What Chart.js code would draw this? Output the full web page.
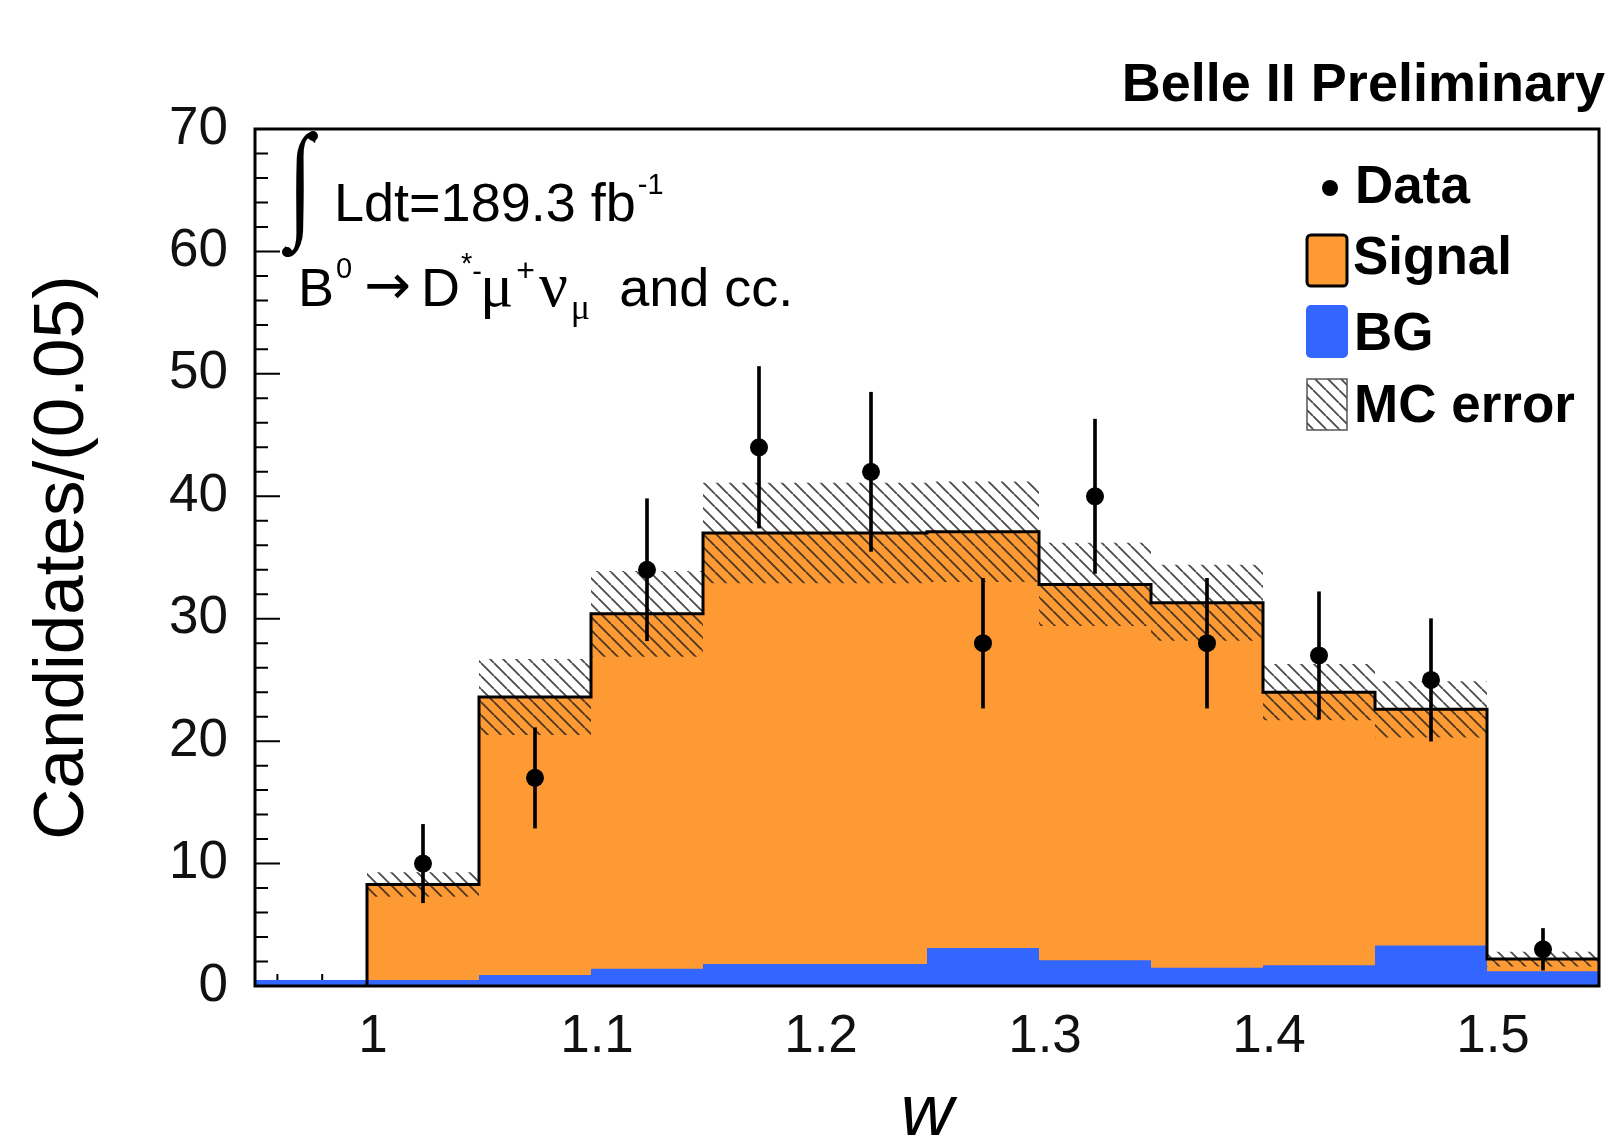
<!DOCTYPE html>
<html>
<head>
<meta charset="utf-8">
<title>Belle II Preliminary - w</title>
<script src="https://cdn.jsdelivr.net/npm/chart.js"></script>
<style>
  html, body { margin: 0; padding: 0; background: #fff; }
  #wrap { width: 1608px; height: 1145px; }
</style>
</head>
<body>
<div id="wrap"><canvas id="graficoW"></canvas></div>
<script>
// bin edges of w (width 0.05)
const binEdges = [0.95, 1.0, 1.05, 1.1, 1.15, 1.2, 1.25, 1.3, 1.35, 1.4, 1.45, 1.5, 1.55];
// stacked MC per bin
const bgValues = [0.5, 0.5, 0.9, 1.4, 1.8, 1.8, 3.1, 2.1, 1.5, 1.7, 3.3, 1.2];
const signalValues = [0, 7.8, 22.7, 29.0, 35.2, 35.2, 34.0, 30.7, 29.8, 22.3, 19.3, 1.0];
const mcError = [0, 1.0, 3.1, 3.5, 4.1, 4.1, 4.1, 3.4, 3.1, 2.3, 2.3, 0.6];
// data points (bin centres)
const dataX = [1.025, 1.075, 1.125, 1.175, 1.225, 1.275, 1.325, 1.375, 1.425, 1.475, 1.525];
const dataY = [10, 17, 34, 44, 42, 28, 40, 28, 27, 25, 3];
const dataErr = [3.2, 4.1, 5.8, 6.6, 6.5, 5.3, 6.3, 5.3, 5.2, 5.0, 1.7];
// axis ticks
const xTicks = [1, 1.1, 1.2, 1.3, 1.4, 1.5];
const yTicks = [0, 10, 20, 30, 40, 50, 60, 70];

const sans = '"Liberation Sans", Arial, Helvetica, sans-serif';
const serif = '"Liberation Serif", "DejaVu Serif", serif';
const orange = '#fe9a34';
const blue = '#3366fe';

const totalValues = signalValues.map((s, i) => s + bgValues[i]);

// points for a stepped line (value holds from left edge to next edge)
function stepPoints(values) {
  const pts = values.map((v, i) => ({ x: binEdges[i], y: v }));
  pts.push({ x: binEdges[values.length], y: values[values.length - 1] });
  return pts;
}

function makeHatch(size, color, width) {
  const c = document.createElement('canvas');
  c.width = size;
  c.height = size;
  const g = c.getContext('2d');
  g.strokeStyle = color;
  g.lineWidth = width;
  g.beginPath();
  for (let k = -1; k <= 1; k++) {
    g.moveTo(k * size, 0);
    g.lineTo(k * size + size, size);
  }
  g.stroke();
  return g.createPattern(c, 'repeat');
}
const hatch = makeHatch(13, 'rgba(30,30,30,0.8)', 1.8);

// outline starts at the first signal bin
const outlinePts = [{ x: binEdges[1], y: 0 }].concat(stepPoints(totalValues).slice(1));

// inside ticks + frame
const frameTicks = {
  id: 'frameTicks',
  beforeDatasetsDraw(chart) {
    const { ctx, chartArea: a, scales: { x, y } } = chart;
    ctx.save();
    ctx.strokeStyle = '#000';
    ctx.lineWidth = 2;
    ctx.beginPath();
    for (let v = 0; v <= 70; v += 2) {
      const py = y.getPixelForValue(v);
      const len = v % 10 === 0 ? 25 : 13;
      ctx.moveTo(a.left, py);
      ctx.lineTo(a.left + len, py);
    }
    for (let k = 48; k <= 77; k++) {
      const px = x.getPixelForValue(k / 50);
      const len = k % 5 === 0 ? 24 : 12;
      ctx.moveTo(px, a.bottom);
      ctx.lineTo(px, a.bottom - len);
    }
    ctx.stroke();
    ctx.restore();
  },
  afterDatasetsDraw(chart) {
    const { ctx, chartArea: a } = chart;
    ctx.save();
    ctx.strokeStyle = '#000';
    ctx.lineWidth = 3;
    ctx.strokeRect(a.left, a.top, a.right - a.left, a.bottom - a.top);
    ctx.restore();
  }
};

function drawRuns(ctx, x, baseline, runs) {
  runs.forEach(r => {
    ctx.font = r.font;
    x += r.pre || 0;
    ctx.fillText(r.text, x, baseline + (r.dy || 0));
    x += ctx.measureText(r.text).width + (r.post || 0);
  });
}

function drawIntegral(ctx, left, top, w, h) {
  ctx.save();
  ctx.font = '100px ' + serif;
  const m = ctx.measureText('\u222B');
  const gw = m.actualBoundingBoxLeft + m.actualBoundingBoxRight;
  const gh = m.actualBoundingBoxAscent + m.actualBoundingBoxDescent;
  ctx.translate(left, top);
  ctx.scale(w / gw, h / gh);
  ctx.textAlign = 'left';
  ctx.textBaseline = 'alphabetic';
  ctx.fillText('\u222B', m.actualBoundingBoxLeft, m.actualBoundingBoxAscent);
  ctx.restore();
  // round terminals like the ROOT glyph
  ctx.beginPath();
  ctx.arc(left + w - 4, top + 5, 5, 0, Math.PI * 2);
  ctx.arc(left + 4, top + h - 5, 5, 0, Math.PI * 2);
  ctx.fill();
}

// annotation text and legend
const labelsPlugin = {
  id: 'labelsPlugin',
  afterDraw(chart) {
    const ctx = chart.ctx;
    ctx.save();
    ctx.fillStyle = '#000';
    ctx.textAlign = 'left';
    ctx.textBaseline = 'alphabetic';

    drawIntegral(ctx, 283, 131, 34, 126);
    drawRuns(ctx, 334, 221, [
      { text: 'Ldt=189.3 fb', font: '54px ' + sans },
      { text: '-1', font: '29px ' + sans, dy: -27, pre: 2 }
    ]);
    drawRuns(ctx, 298, 306, [
      { text: 'B', font: '54px ' + sans },
      { text: '0', font: '29px ' + sans, dy: -28, pre: 2 },
      { text: '\u2192', font: '56px "DejaVu Sans"', pre: 12, dy: -2 },
      { text: 'D', font: '54px ' + sans, pre: 10 },
      { text: '*', font: '29px ' + sans, dy: -33, pre: 1 },
      { text: '-', font: '29px ' + sans, dy: -25 },
      { text: '\u03BC', font: '62px ' + serif, pre: -2 },
      { text: '+', font: '32px ' + sans, dy: -25, pre: 3 },
      { text: '\u03BD', font: '64px ' + serif, pre: 4 },
      { text: '\u03BC', font: '36px ' + serif, dy: 13, pre: 3 },
      { text: ' and cc.', font: '54px ' + sans, pre: 14 }
    ]);

    // legend
    ctx.font = 'bold 53px ' + sans;
    ctx.beginPath();
    ctx.arc(1330, 188, 8, 0, Math.PI * 2);
    ctx.fill();
    ctx.fillText('Data', 1355, 203);

    ctx.beginPath();
    ctx.roundRect(1307, 235, 40, 51, 4);
    ctx.fillStyle = orange;
    ctx.fill();
    ctx.lineWidth = 3;
    ctx.strokeStyle = '#000';
    ctx.stroke();
    ctx.fillStyle = '#000';
    ctx.fillText('Signal', 1353, 274);

    ctx.beginPath();
    ctx.roundRect(1306, 305, 42, 53, 5);
    ctx.fillStyle = blue;
    ctx.fill();
    ctx.fillStyle = '#000';
    ctx.fillText('BG', 1354, 350);

    ctx.beginPath();
    ctx.rect(1307, 379, 40, 51);
    ctx.fillStyle = hatch;
    ctx.fill();
    ctx.lineWidth = 1.5;
    ctx.strokeStyle = '#555';
    ctx.stroke();
    ctx.fillStyle = '#000';
    ctx.fillText('MC error', 1354, 422);
    ctx.restore();
  }
};

new Chart(document.getElementById('graficoW'), {
  type: 'line',
  data: {
    datasets: [
      {
        label: 'Signal',
        data: stepPoints(totalValues),
        stepped: 'before',
        fill: 'origin',
        backgroundColor: orange,
        borderColor: 'rgba(0,0,0,0)',
        borderWidth: 0,
        pointRadius: 0,
        order: 6
      },
      {
        label: 'BG',
        data: stepPoints(bgValues),
        stepped: 'before',
        fill: 'origin',
        backgroundColor: blue,
        borderColor: 'rgba(0,0,0,0)',
        borderWidth: 0,
        pointRadius: 0,
        order: 5
      },
      {
        label: 'MC low',
        data: stepPoints(totalValues.map((t, i) => t - mcError[i])),
        stepped: 'before',
        fill: false,
        borderColor: 'rgba(0,0,0,0)',
        borderWidth: 0,
        pointRadius: 0,
        order: 4
      },
      {
        label: 'MC error',
        data: stepPoints(totalValues.map((t, i) => t + mcError[i])),
        stepped: 'before',
        fill: '-1',
        backgroundColor: hatch,
        borderColor: 'rgba(0,0,0,0)',
        borderWidth: 0,
        pointRadius: 0,
        order: 4
      },
      {
        label: 'outline',
        data: outlinePts,
        stepped: 'before',
        fill: false,
        borderColor: '#000',
        borderWidth: 3,
        pointRadius: 0,
        order: 3
      },
      {
        type: 'bar',
        label: 'Data err',
        data: dataX.map((x, i) => ({ x: x, y: [dataY[i] - dataErr[i], dataY[i] + dataErr[i]] })),
        backgroundColor: '#000',
        barThickness: 3,
        grouped: false,
        order: 2
      },
      {
        label: 'Data',
        data: dataX.map((x, i) => ({ x: x, y: dataY[i] })),
        showLine: false,
        pointRadius: 9,
        pointBackgroundColor: '#000',
        pointBorderWidth: 0,
        order: 1
      }
    ]
  },
  options: {
    responsive: true,
    maintainAspectRatio: false,
    animation: false,
    events: [],
    layout: { padding: { top: 0, right: 3, left: 0, bottom: 0 } },
    scales: {
      x: {
        type: 'linear',
        min: 0.95,
        max: 1.55,
        offset: false,
        grid: { display: false, drawTicks: false, offset: false },
        border: { display: false },
        afterBuildTicks: s => { s.ticks = xTicks.map(v => ({ value: v })); },
        afterFit: s => { s.height = 159; },
        ticks: {
          padding: 20,
          labelOffset: 6,
          maxRotation: 0,
          autoSkip: false,
          color: '#111',
          font: { family: sans, size: 53 },
          callback: v => String(v)
        },
        title: {
          display: true,
          text: 'w',
          color: '#000',
          font: { family: sans, size: 73, style: 'italic', lineHeight: 0.8 },
          padding: { top: 0, bottom: 1 }
        }
      },
      y: {
        min: 0,
        max: 70,
        grid: { display: false, drawTicks: false },
        border: { display: false },
        afterBuildTicks: s => { s.ticks = yTicks.map(v => ({ value: v })); },
        afterFit: s => { s.width = 255; },
        ticks: {
          padding: 27,
          color: '#111',
          font: { family: sans, size: 53 }
        },
        title: {
          display: true,
          text: 'Candidates/(0.05)',
          color: '#000',
          font: { family: sans, size: 71, lineHeight: 1.2 },
          padding: { top: 21, bottom: 0 }
        }
      }
    },
    plugins: {
      legend: { display: false },
      tooltip: { enabled: false },
      title: {
        display: true,
        text: 'Belle II Preliminary',
        align: 'end',
        color: '#000',
        font: { family: sans, size: 54, weight: 'bold', lineHeight: 1 },
        padding: { top: 59, bottom: 16 }
      }
    }
  },
  plugins: [frameTicks, labelsPlugin]
});
</script>
</body>
</html>
